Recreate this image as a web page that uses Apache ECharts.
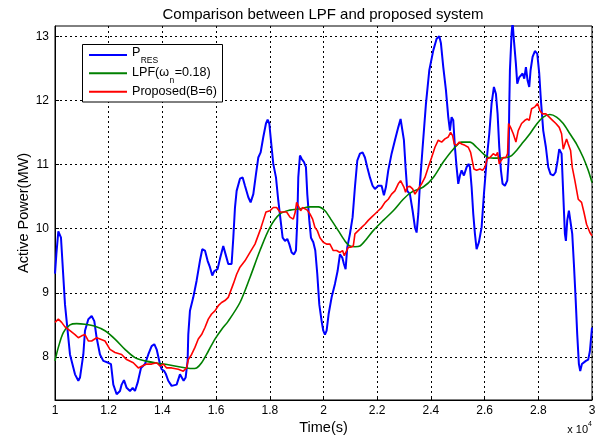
<!DOCTYPE html>
<html>
<head>
<meta charset="utf-8">
<script src="https://cdn.jsdelivr.net/npm/echarts@6/dist/echarts.min.js"></script>
<style>
  html, body { margin: 0; padding: 0; background: #fff; }
  #chart { width: 602px; height: 437px; }
</style>
</head>
<body>
<div id="chart"></div>
<script>
// Renewable output P_RES (time in s, power in MW)
const resTime = [10000,10050,10124,10223,10372,10558,10745,10869,10931,11055,11117,11241,11365,11464,11551,11675,11799,11986,12085,12172,12296,12420,12482,12569,12668,12792,12892,12978,13078,13202,13351,13475,13599,13698,13785,13909,13971,14070,14133,14219,14344,14530,14654,14716,14790,14865,14939,14964,15026,15150,15274,15398,15485,15585,15684,15771,15858,15932,16056,16143,16267,16354,16453,16577,16641,16703,16765,16889,16989,17075,17200,17286,17386,17485,17572,17659,17758,17857,17919,17981,18068,18130,18230,18316,18403,18478,18565,18652,18726,18813,18900,18974,19024,19061,19123,19185,19272,19346,19396,19471,19533,19620,19694,19769,19843,19930,19992,20054,20116,20191,20302,20426,20525,20612,20699,20761,20823,20885,20985,21084,21171,21258,21357,21456,21543,21630,21729,21828,21915,22039,22164,22250,22325,22412,22536,22660,22784,22871,22945,22995,23057,23119,23218,23319,23406,23468,23530,23592,23692,23816,23940,24089,24213,24312,24374,24461,24560,24647,24709,24771,24833,24895,24957,25019,25082,25144,25230,25330,25404,25454,25516,25578,25640,25702,25789,25888,25975,26074,26174,26260,26347,26422,26484,26546,26608,26670,26757,26844,26893,26918,26943,27005,27042,27092,27166,27216,27290,27353,27415,27477,27539,27601,27663,27712,27787,27874,27961,28035,28097,28184,28283,28370,28457,28556,28643,28718,28780,28867,28929,28991,29028,29078,29140,29202,29264,29326,29388,29450,29512,29562,29624,29698,29772,29859,29921,30000];
const resPower = [9.30,9.60,9.96,9.86,8.82,8.04,7.73,7.63,7.68,8.04,8.41,8.59,8.64,8.56,8.30,8.04,7.94,7.91,7.89,7.57,7.42,7.47,7.57,7.64,7.52,7.47,7.52,7.47,7.60,7.83,7.89,8.04,8.17,8.20,8.12,7.89,7.81,7.78,7.73,7.63,7.55,7.57,7.73,7.76,7.63,7.68,7.94,8.35,8.72,8.93,9.19,9.50,9.68,9.66,9.50,9.40,9.27,9.34,9.37,9.53,9.73,9.60,9.45,9.45,9.86,10.33,10.59,10.78,10.80,10.67,10.49,10.41,10.54,10.85,11.11,11.19,11.43,11.64,11.70,11.64,11.27,11.01,10.80,10.44,10.13,9.86,9.81,9.84,9.76,9.63,9.60,9.66,10.13,10.80,11.14,11.09,11.04,10.96,10.54,10.13,9.86,9.79,9.66,9.29,8.82,8.56,8.41,8.35,8.41,8.67,8.93,9.14,9.34,9.60,9.55,9.45,9.37,9.71,9.92,10.18,10.65,11.06,11.17,11.19,11.11,10.96,10.80,10.67,10.62,10.67,10.67,10.52,10.65,10.91,11.17,11.38,11.58,11.71,11.69,11.38,10.96,10.59,10.54,10.28,10.02,9.94,10.23,10.70,11.27,11.95,12.47,12.78,12.96,13.00,12.89,12.52,12.16,11.74,11.53,11.74,11.69,11.27,10.96,10.70,10.83,10.91,10.83,10.96,11.01,10.96,10.65,10.23,9.92,9.68,9.79,10.02,10.54,11.06,11.48,11.95,12.21,12.10,11.79,11.27,10.91,10.70,10.67,10.75,11.06,11.90,12.47,13.04,13.22,12.94,12.57,12.26,12.36,12.34,12.42,12.34,12.52,12.31,12.21,12.47,12.68,12.77,12.73,12.42,12.00,11.53,11.27,10.96,10.85,10.83,10.88,11.06,11.24,11.17,10.54,9.92,9.81,10.13,10.28,10.26,9.92,9.45,8.93,8.35,7.89,7.78,7.89,7.91,7.94,7.96,8.09,8.46];

// Low-pass filter output, omega_n = 0.18
const lpfTime = [10000,10124,10310,10558,10807,11117,11489,11862,12234,12606,12978,13351,13723,14219,14716,15088,15274,15460,15709,15957,16205,16453,16889,17262,17634,18006,18379,18751,19123,19495,19806,20054,20302,20550,20798,20985,21171,21357,21605,21853,22226,22598,22970,23281,23716,24089,24461,24833,25144,25454,25702,25950,26136,26447,26819,27005,27191,27439,27688,27936,28184,28432,28680,28929,29177,29425,29673,29859,30000];
const lpfPower = [7.94,8.15,8.38,8.50,8.52,8.51,8.48,8.41,8.28,8.12,7.99,7.94,7.91,7.88,7.84,7.82,7.83,7.91,8.09,8.28,8.43,8.56,8.85,9.24,9.66,10.02,10.23,10.29,10.31,10.34,10.34,10.28,10.13,9.97,9.81,9.73,9.72,9.73,9.84,9.97,10.13,10.28,10.46,10.57,10.65,10.80,11.04,11.24,11.35,11.35,11.27,11.17,11.11,11.10,11.11,11.14,11.22,11.35,11.48,11.63,11.74,11.78,11.74,11.64,11.48,11.32,11.11,10.91,10.72];

// Proposed system output, B = 6
const propTime = [10000,10124,10248,10372,10558,10745,10869,10993,11117,11241,11365,11551,11675,11862,12048,12234,12482,12668,12916,13103,13251,13413,13599,13785,13909,14033,14157,14344,14592,14778,14902,14964,15088,15212,15336,15460,15585,15709,15833,15957,16081,16205,16329,16453,16641,16765,16889,17075,17262,17448,17634,17758,17857,18006,18130,18254,18379,18503,18627,18751,18875,18949,18999,19061,19148,19222,19309,19396,19495,19595,19682,19769,19868,19992,20116,20240,20364,20488,20612,20711,20774,20836,20923,21009,21109,21171,21295,21419,21543,21667,21791,21915,22039,22164,22288,22412,22536,22660,22784,22871,22945,22995,23057,23119,23218,23319,23406,23530,23654,23778,23903,24027,24151,24275,24399,24523,24647,24734,24808,24871,24957,25057,25144,25268,25392,25479,25541,25603,25702,25826,25925,26012,26099,26198,26323,26422,26484,26546,26608,26695,26794,26856,26893,26968,27067,27166,27253,27377,27501,27588,27663,27750,27874,27973,28060,28159,28283,28407,28531,28655,28780,28867,28929,28991,29053,29115,29202,29264,29363,29487,29611,29698,29797,29921,30000];
const propPower = [8.54,8.59,8.54,8.47,8.41,8.35,8.30,8.33,8.35,8.25,8.25,8.30,8.28,8.25,8.12,8.07,8.04,7.96,7.91,7.83,7.86,7.89,7.89,7.91,7.86,7.89,7.83,7.83,7.81,7.78,7.83,7.96,8.04,8.15,8.28,8.35,8.46,8.59,8.67,8.72,8.80,8.85,8.88,8.93,9.14,9.29,9.40,9.50,9.63,9.76,9.97,10.13,10.26,10.28,10.33,10.33,10.26,10.26,10.26,10.18,10.15,10.26,10.41,10.39,10.28,10.33,10.31,10.29,10.23,10.15,10.02,9.97,9.86,9.79,9.76,9.76,9.66,9.66,9.63,9.66,9.58,9.60,9.71,9.71,9.73,9.92,9.97,10.02,10.07,10.13,10.18,10.23,10.28,10.33,10.41,10.46,10.54,10.59,10.70,10.75,10.72,10.65,10.57,10.65,10.66,10.62,10.54,10.62,10.70,10.80,10.96,11.11,11.27,11.38,11.35,11.40,11.43,11.50,11.45,11.32,11.30,11.35,11.32,11.30,11.27,11.19,11.06,10.93,10.91,10.93,10.91,10.96,11.09,11.11,11.17,11.14,11.19,11.01,11.06,11.11,11.11,11.17,11.64,11.58,11.48,11.35,11.53,11.64,11.69,11.71,11.69,11.87,11.90,11.95,11.84,11.79,11.79,11.74,11.69,11.64,11.58,11.48,11.24,11.32,11.40,11.32,11.22,10.96,10.75,10.46,10.41,10.26,10.07,9.94,9.89];

// Axis ticks
const xTicks = [10000, 12000, 14000, 16000, 18000, 20000, 22000, 24000, 26000, 28000, 30000];
const yTicks = [8, 9, 10, 11, 12, 13];

// Legend entries: colour, main text pieces and subscripts
const legendEntries = [
  { color: '#0000ff', parts: [['P', false], ['RES', true]] },
  { color: '#008000', parts: [['LPF(ω', false], ['n', true], ['=0.18)', false]] },
  { color: '#ff0000', parts: [['Proposed(B=6)', false]] }
];

const zip = (xs, ys) => xs.map((x, i) => [x, ys[i]]);

const FONT = '"Liberation Sans", Arial, sans-serif';
const LEG_SIZE = 12.6, SUB_SIZE = 8.5;
const measureCtx = document.createElement('canvas').getContext('2d');
function textWidth(str, size) {
  measureCtx.font = size + 'px ' + FONT;
  return measureCtx.measureText(str).width;
}

// Legend box drawn as graphic elements (box, line samples, labels with subscripts)
function buildLegend() {
  const box = { x: 82.5, y: 44.5, w: 140, h: 57.5 };
  const rowY = [55, 73.3, 91.7];
  const els = [{
    type: 'rect', z: 100,
    shape: { x: box.x, y: box.y, width: box.w, height: box.h },
    style: { fill: '#fff', stroke: '#000', lineWidth: 1 }
  }];
  legendEntries.forEach((entry, i) => {
    const y = rowY[i];
    els.push({
      type: 'line', z: 101,
      shape: { x1: 89, y1: y, x2: 127, y2: y },
      style: { stroke: entry.color, lineWidth: 2 }
    });
    let x = 132;
    const hasSub = entry.parts.some(p => p[1]);
    entry.parts.forEach(([str, sub]) => {
      const size = sub ? SUB_SIZE : LEG_SIZE;
      let ty = y - 0.5;
      if (sub) ty = y + (i === 0 ? 6 : 7.2);
      else if (hasSub && i === 0) ty = y - 2;
      els.push({
        type: 'text', z: 102,
        x: x, y: ty,
        style: { text: str, fontFamily: FONT, fontSize: size, fill: '#000', verticalAlign: 'middle', align: 'left' }
      });
      x += textWidth(str, size) + (sub ? 0.5 : 0.3);
    });
  });
  return els;
}

const chart = echarts.init(document.getElementById('chart'), null, { renderer: 'canvas' });

const gridDash = { color: '#000', width: 1, type: [2, 3] };

chart.setOption({
  animation: false,
  backgroundColor: '#fff',
  grid: {
    left: 55, right: 10, top: 26, bottom: 37,
    containLabel: false, outerBoundsMode: 'none',
    show: true, borderColor: '#000', borderWidth: 1, backgroundColor: '#fff'
  },
  xAxis: {
    type: 'value',
    min: xTicks[0], max: xTicks[xTicks.length - 1], interval: 2000,
    name: 'Time(s)', nameLocation: 'middle', nameGap: 20, nameMoveOverlap: false,
    nameTextStyle: { fontFamily: FONT, fontSize: 14.5, color: '#000' },
    axisLine: { show: true, onZero: false, lineStyle: { color: '#000', width: 1 } },
    axisTick: { show: true, inside: true, length: 4, lineStyle: { color: '#000' } },
    axisLabel: {
      fontFamily: FONT, fontSize: 12, color: '#000', margin: 5,
      formatter: v => String(v / 10000)
    },
    splitLine: { show: true, lineStyle: gridDash }
  },
  yAxis: {
    type: 'value',
    min: 7.33, max: 13.16,
    name: 'Active Power(MW)', nameLocation: 'middle', nameGap: 24, nameMoveOverlap: false,
    nameTextStyle: { fontFamily: FONT, fontSize: 14.5, color: '#000' },
    axisLine: { show: true, onZero: false, lineStyle: { color: '#000', width: 1 } },
    axisTick: { show: true, inside: true, length: 4, customValues: yTicks, lineStyle: { color: '#000' } },
    axisLabel: {
      fontFamily: FONT, fontSize: 12, color: '#000', margin: 6,
      customValues: yTicks,
      formatter: v => String(v)
    },
    splitLine: { show: true, lineStyle: gridDash }
  },
  graphic: [
    {
      type: 'text',
      x: 323, y: 15,
      style: {
        text: 'Comparison between LPF and proposed system',
        fontFamily: FONT, fontSize: 15, fill: '#000',
        align: 'center', verticalAlign: 'middle'
      }
    },
    {
      type: 'text',
      right: 10, bottom: 2,
      style: {
        text: '{b|x 10}{p|4}',
        rich: {
          b: { fontFamily: FONT, fontSize: 11, fill: '#000', lineHeight: 14, verticalAlign: 'bottom' },
          p: { fontFamily: FONT, fontSize: 7, fill: '#000', lineHeight: 14, verticalAlign: 'top' }
        }
      }
    }
  ].concat(buildLegend()),
  series: [
    {
      name: 'P_RES', type: 'line', data: zip(resTime, resPower),
      showSymbol: false, symbol: 'none', clip: true,
      color: '#0000ff', lineStyle: { color: '#0000ff', width: 2 }
    },
    {
      name: 'LPF', type: 'line', data: zip(lpfTime, lpfPower), smooth: 0.3,
      showSymbol: false, symbol: 'none', clip: true,
      color: '#008000', lineStyle: { color: '#008000', width: 1.6 }
    },
    {
      name: 'Proposed', type: 'line', data: zip(propTime, propPower),
      showSymbol: false, symbol: 'none', clip: true,
      color: '#ff0000', lineStyle: { color: '#ff0000', width: 1.6 }
    }
  ]
});
</script>
</body>
</html>
